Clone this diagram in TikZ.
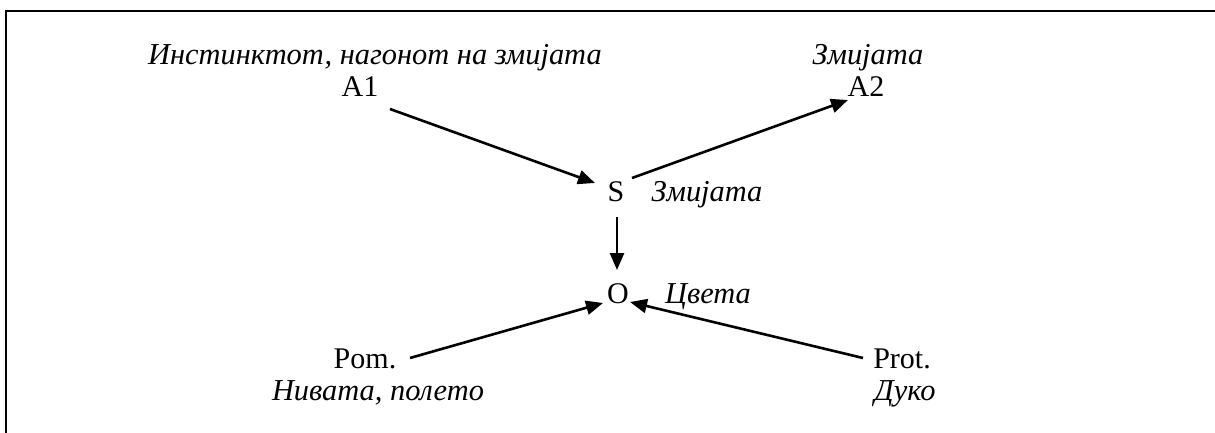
\documentclass[tikz,border=0pt]{standalone}
\usepackage{fontspec}
\setmainfont{Liberation Serif}
\usetikzlibrary{arrows.meta,calc}
\begin{document}
\begin{tikzpicture}[x=0.5pt,y=-0.5pt,
  lbl/.style={inner sep=0pt,anchor=base,font=\fontsize{15pt}{18pt}\selectfont},
  ital/.style={lbl,font=\fontsize{15.2pt}{18pt}\selectfont\itshape},
  link/.style={line width=1.3pt,-{Triangle[length=8.5pt,width=7pt]}}]
\useasboundingbox (0,0) rectangle (1215,433);
% open frame: top and left edges only
\draw[line width=1.2pt] (6,433) -- (6,11) -- (1215,11);

% labels
\node[ital] (tA1) at (375,65) {Инстинктот, нагонот на змијата};
\node[lbl]  (A1)  at (360,97) {A1};
\node[ital] (tA2) at (868,65) {Змијата};
\node[lbl]  (A2)  at (866,97) {A2};
\node[lbl]  (S)   at (616,201) {S};
\node[ital] (tS)  at (707,201) {Змијата};
\node[lbl]  (O)   at (618,303) {O};
\node[ital] (tO)  at (708,303) {Цвета};
\node[lbl]  (Pom) at (365,368) {Pom.};
\node[ital] (tPom) at (378,400) {Нивата, полето};
\node[lbl]  (Prot) at (902,368) {Prot.};
\node[ital] (tProt) at (905,400) {Дуко};

% connectors
\draw[link] ($(A1.base)+(30,12)$) -- ($(S.base)+(-21,-18)$);
\draw[link] ($(S.base)+(16,-23)$) -- ($(A2.base)+(-18,3)$);
\draw[link] ($(S.base)+(1,16)$) -- ($(O.base)+(-1,-33)$);
\draw[link] ($(Pom.base)+(45,-10)$) -- ($(O.base)+(-15,0)$);
\draw[link] ($(Prot.base)+(-39,-10)$) -- ($(O.base)+(12,-1)$);
\end{tikzpicture}
\end{document}
